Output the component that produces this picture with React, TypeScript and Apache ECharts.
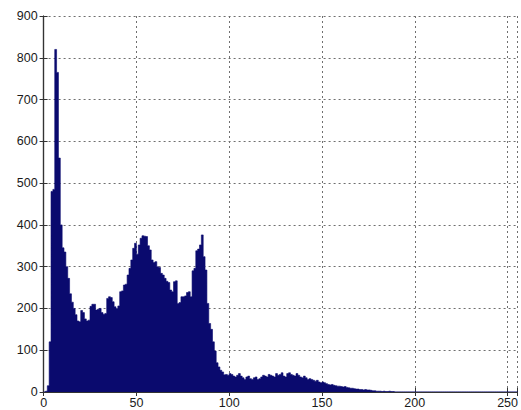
import React, { useEffect, useRef } from "react";
import * as echarts from "echarts";

// Grey-level histogram: one count per intensity level 0..255
const levels: number[] = Array.from({ length: 256 }, (_, i) => i);

const countsLow: number[] = [
  0, 2, 15, 120, 480, 485, 820, 765, 560, 400,
  345, 335, 300, 272, 235, 215, 200, 185, 170, 168,
  195, 190, 175, 170, 172, 205, 210, 210, 196, 198,
  200, 190, 186, 188, 224, 228, 226, 216, 204, 200,
  206, 240, 242, 256, 258, 280, 296, 316, 344, 356,
  330, 352, 368, 374, 373, 372, 350, 340, 316, 310,
  312, 300, 298, 284, 280, 272, 265, 262, 244, 240,
  264, 266, 212, 214, 228, 228, 230, 238, 240, 228,
  290, 296, 338, 342, 352, 376, 324, 292, 212, 164,
  150, 120, 98, 70, 60, 52, 48, 41, 42, 40,
];

const countsMid: number[] = [
  44, 42, 38, 36, 40, 44, 38, 34, 30, 36,
  38, 32, 30, 34, 36, 30, 32, 36, 40, 38,
  36, 42, 40, 38, 36, 44, 40, 42, 46, 38,
  36, 44, 46, 42, 40, 38, 44, 40, 36, 34,
  38, 34, 30, 32, 30, 28, 26, 28, 24, 22,
];

const countsHigh: number[] = [
  24, 22, 20, 18, 17, 18, 16, 15, 14, 14,
  13, 12, 13, 11, 10, 9, 9, 8, 7, 7,
  6, 6, 5, 6, 5, 5, 4, 3, 3, 2,
  2, 2, 1, 2, 1, 1, 2, 1, 1, 0,
];

const counts: number[] = [...countsLow, ...countsMid, ...countsHigh];
while (counts.length < levels.length) counts.push(0);

const xTicks: number[] = [0, 50, 100, 150, 200, 250];
const yTicks: number[] = [0, 100, 200, 300, 400, 500, 600, 700, 800, 900];

const BAR = "#0a0a6e";
const FONT = "Liberation Sans";

export default function App() {
  const ref = useRef<HTMLDivElement>(null);

  useEffect(() => {
    if (!ref.current) return;
    const chart = echarts.init(ref.current, undefined, { renderer: "svg" });

    const axisLabel = { color: "#1a1a1a", fontSize: 12.5, fontFamily: FONT };
    const split = { show: true, lineStyle: { color: "#6f6f6f", type: [2, 3] as any, width: 1 } };
    const frame = { show: true, lineStyle: { color: "#333333", width: 1.2 } };
    const tick = { show: true, inside: true, length: 4, lineStyle: { color: "#333333" } };

    chart.setOption({
      animation: false,
      backgroundColor: "#ffffff",
      grid: { left: 43.6, right: 3.3, top: 16, bottom: 18, containLabel: false },
      xAxis: [
        {
          type: "value",
          min: 0,
          max: 255,
          interval: 50,
          axisLine: frame,
          axisTick: tick,
          splitLine: split,
          axisLabel: { ...axisLabel, margin: 4, formatter: (v: number) => (xTicks.includes(v) ? String(v) : "") },
        },
        {
          type: "value",
          position: "top",
          min: 0,
          max: 255,
          interval: 50,
          axisLine: frame,
          axisTick: tick,
          splitLine: { show: false },
          axisLabel: { show: false },
        },
      ],
      yAxis: [
        {
          type: "value",
          min: 0,
          max: 900,
          interval: 100,
          axisLine: frame,
          axisTick: tick,
          splitLine: split,
          axisLabel: { ...axisLabel, margin: 6, formatter: (v: number) => (yTicks.includes(v) ? String(v) : "") },
        },
        {
          type: "value",
          position: "right",
          min: 0,
          max: 900,
          interval: 100,
          axisLine: frame,
          axisTick: tick,
          splitLine: { show: false },
          axisLabel: { show: false },
        },
      ],
      series: [
        {
          type: "custom",
          xAxisIndex: 0,
          yAxisIndex: 0,
          clip: true,
          encode: { x: 0, y: 1 },
          data: levels.map((lv, i) => [lv, counts[i]]),
          // the whole histogram is drawn once, as a single stepped outline,
          // so adjacent bins share edges with no anti-aliasing seams
          renderItem: (params: any, api: any) => {
            if (params.dataIndex !== 0) return null;
            const pts: number[][] = [api.coord([levels[0], 0])];
            levels.forEach((lv, i) => {
              const left = api.coord([lv, counts[i]]);
              const right = api.coord([lv + 1, counts[i]]);
              pts.push(left, right);
            });
            pts.push(api.coord([levels[levels.length - 1] + 1, 0]));
            return {
              type: "polygon",
              shape: { points: pts },
              style: { fill: BAR, stroke: BAR, lineWidth: 0.6 },
            };
          },
        },
      ],
    });

    return () => chart.dispose();
  }, []);

  return (
    <div
      ref={ref}
      style={{ position: "fixed", left: 0, top: 0, width: 521, height: 410, background: "#fff" }}
    />
  );
}
